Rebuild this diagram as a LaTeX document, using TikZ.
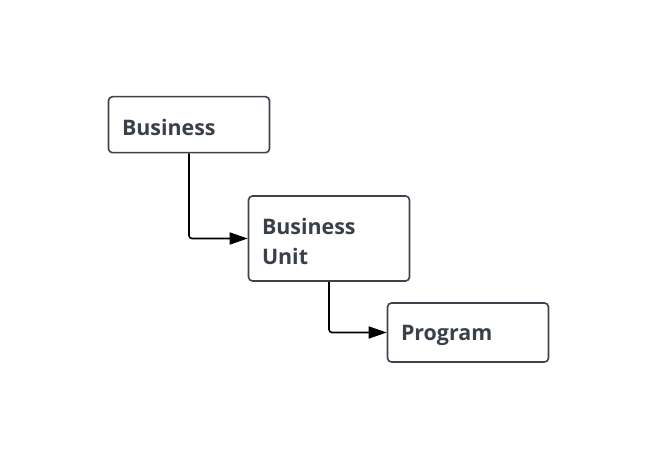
\documentclass[tikz,border=0pt]{standalone}
\usepackage{fontspec}
\setmainfont{Open Sans}
\usetikzlibrary{arrows.meta, positioning}
\definecolor{boxline}{HTML}{3D434C}
\definecolor{boxtext}{HTML}{3A4049}
\tikzset{
  level/.style={draw=boxline, line width=1.6bp, rounded corners=4bp, fill=white,
    text=boxtext, font=\fontsize{21.4bp}{30bp}\selectfont\bfseries,
    minimum width=161bp, text width=134bp, align=left, inner xsep=13bp,
    execute at begin node=\rule{0pt}{22bp}},
  link/.style={line width=1.6bp, rounded corners=3bp, -{Triangle[length=18bp,width=12bp]}}
}
\begin{document}
\begin{tikzpicture}[x=1bp,y=-1bp]
	\useasboundingbox (0,0) rectangle (659,474);
	\node[level, minimum height=56bp] (biz) at (189,124.7) {Business};
	\node[level, minimum height=85bp] (unit) at (329,238.5) {Business\\Unit};
	\node[level, minimum height=59bp] (prog) at (468,332.5) {Program};
	\draw[link] (biz.south) |- (unit.west);
	\draw[link] (unit.south) |- (prog.west);
\end{tikzpicture}
\end{document}
